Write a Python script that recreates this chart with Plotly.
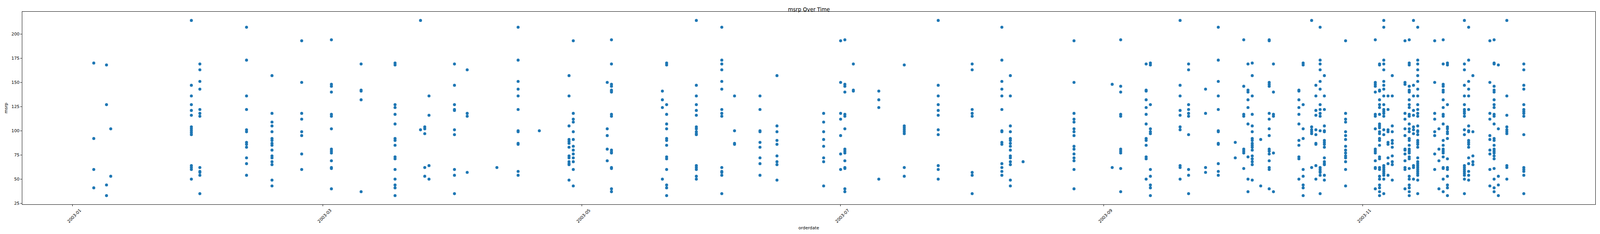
import pandas as pd
import plotly.graph_objects as go

# order dates (2003) and the msrp values of the order lines on each date
order_dates = [
    "2003-01-06", "2003-01-09", "2003-01-10", "2003-01-29", "2003-01-31",
    "2003-02-11", "2003-02-17", "2003-02-24", "2003-03-03", "2003-03-10",
    "2003-03-18", "2003-03-24", "2003-03-25", "2003-03-26", "2003-04-01",
    "2003-04-04", "2003-04-11", "2003-04-16", "2003-04-21", "2003-04-28",
    "2003-04-29", "2003-05-07", "2003-05-08", "2003-05-20", "2003-05-21",
    "2003-05-28", "2003-06-03", "2003-06-06", "2003-06-12", "2003-06-16",
    "2003-06-27", "2003-07-01", "2003-07-02", "2003-07-04", "2003-07-10",
    "2003-07-16", "2003-07-24", "2003-08-01", "2003-08-08", "2003-08-10",
    "2003-08-13", "2003-08-25", "2003-09-03", "2003-09-05", "2003-09-11",
    "2003-09-12", "2003-09-19", "2003-09-21", "2003-09-25", "2003-09-28",
    "2003-10-02", "2003-10-04", "2003-10-05", "2003-10-06", "2003-10-08",
    "2003-10-10", "2003-10-11", "2003-10-17", "2003-10-18", "2003-10-20",
    "2003-10-21", "2003-10-22", "2003-10-23", "2003-10-28", "2003-11-04",
    "2003-11-05", "2003-11-06", "2003-11-07", "2003-11-08", "2003-11-11",
    "2003-11-12", "2003-11-13", "2003-11-14", "2003-11-18", "2003-11-19",
    "2003-11-20", "2003-11-21", "2003-11-25", "2003-11-26", "2003-11-27",
    "2003-12-01", "2003-12-02", "2003-12-03", "2003-12-05", "2003-12-09",
]

msrp_by_date = [
    [170, 92, 60, 41],
    [168, 127, 44, 33],
    [102, 53],
    [214, 147, 136, 127, 121, 116, 104, 102, 100, 98, 96, 64, 62, 60, 50],
    [169, 163, 151, 143, 122, 118, 115, 62, 58, 57, 54, 35],
    [207, 173, 136, 122, 101, 99, 88, 86, 83, 72, 66, 54],
    [157, 118, 109, 105, 99, 92, 90, 87, 85, 80, 74, 72, 68, 65, 49, 43],
    [193, 150, 118, 112, 99, 95, 76, 60],
    [194, 148, 146, 140, 117, 115, 102, 81, 79, 77, 69, 62, 61, 40],
    [169, 142, 141, 132, 37],
    [170, 168, 127, 124, 117, 107, 92, 90, 85, 73, 71, 60, 50, 44, 41, 33],
    [214, 101],
    [104, 102, 97, 62, 53],
    [136, 116, 64, 50],
    [169, 147, 127, 122, 121, 101, 96, 60, 54, 35],
    [163, 118, 115, 57],
    [62],
    [207, 173, 151, 143, 136, 122, 100, 99, 87, 86, 58, 54],
    [100],
    [157, 136, 105, 91, 89, 87, 83, 74, 72, 68, 66, 65, 49],
    [193, 118, 112, 109, 99, 91, 84, 80, 76, 72, 68, 60, 43],
    [150, 102, 95, 81, 69],
    [194, 169, 148, 146, 142, 141, 140, 117, 115, 80, 78, 77, 62, 61, 40, 37],
    [141, 132, 124, 50],
    [170, 168, 127, 117, 107, 102, 92, 90, 85, 73, 71, 60, 44, 41, 33],
    [214, 147, 136, 127, 121, 116, 104, 102, 99, 97, 96, 64, 62, 60, 53, 50],
    [207, 173, 169, 163, 151, 143, 122, 118, 115, 62, 58, 57, 54, 35],
    [136, 100, 87, 86],
    [136, 122, 100, 99, 88, 83, 72, 66, 54],
    [157, 105, 99, 90, 86, 74, 68, 65, 49],
    [118, 109, 99, 91, 84, 72, 68, 43],
    [193, 150, 118, 112, 95, 76, 60],
    [194, 148, 146, 140, 117, 115, 102, 81, 79, 77, 69, 62, 61, 40, 37],
    [169, 142, 141],
    [141, 132, 124, 50],
    [168, 105, 103, 101, 99, 97, 62, 53],
    [214, 147, 136, 127, 121, 116, 101, 96, 64, 60, 50],
    [169, 163, 122, 118, 115, 57, 54, 35],
    [207, 173, 151, 143, 136, 122, 100, 99, 88, 86, 66, 62, 58, 54],
    [157, 136, 105, 99, 92, 90, 87, 84, 80, 74, 72, 68, 65, 49, 43],
    [68],
    [193, 150, 118, 112, 109, 102, 99, 95, 84, 81, 76, 72, 69, 60, 40],
    [148, 62],
    [194, 146, 140, 117, 115, 81, 79, 77, 61, 37],
    [169, 142, 141, 132, 124, 117, 107, 92, 90, 85, 73, 71, 50],
    [170, 168, 127, 102, 99, 97, 60, 53, 44, 41, 33],
    [214, 147, 136, 121, 116, 104, 101, 64, 62, 50],
    [169, 163, 127, 122, 118, 115, 96, 60, 54, 35],
    [143, 118, 62, 57],
    [207, 173, 151, 136, 122, 100, 99, 87, 86, 66, 58, 54],
    [88, 72],
    [194, 146, 117, 115, 81, 79, 77, 61],
    [169, 142, 140, 132, 124, 107, 73, 50, 37],
    [170, 157, 136, 117, 105, 99, 92, 90, 87, 85, 83, 80, 74, 71, 68, 65, 49],
    [91, 43],
    [194, 193, 150, 148, 146, 118, 112, 102, 95, 81, 79, 76, 69, 62, 60, 40],
    [169, 140, 117, 115, 77, 37],
    [142, 141, 132, 124, 117, 107, 90, 85, 73, 71, 50],
    [170, 168, 127, 102, 92, 60, 53, 44, 41, 33],
    [214, 104, 101, 99, 97, 62],
    [147, 136, 121, 116, 101, 96, 87, 86, 64, 50],
    [207, 173, 169, 163, 151, 143, 127, 122, 118, 115, 100, 62, 60, 58, 57, 54, 35],
    [157, 136, 122, 105, 100, 99, 90, 88, 86, 83, 72, 68, 66, 65, 54, 49],
    [193, 118, 112, 109, 99, 95, 91, 84, 80, 77, 74, 72, 68, 60, 43],
    [194, 150, 148, 146, 140, 117, 115, 102, 81, 79, 77, 69, 62, 61, 40],
    [169, 168, 142, 141, 132, 127, 124, 117, 107, 105, 103, 99, 97, 92, 90, 85,
     73, 71, 62, 60, 53, 50, 44, 41, 37, 33],
    [214, 207, 173, 169, 163, 151, 147, 143, 136, 127, 122, 120, 118, 115, 101,
     96, 64, 62, 60, 58, 56, 54, 50, 35],
    [136, 122, 101, 99, 88, 86, 72, 66, 54],
    [157, 136, 105, 99, 90, 87, 83, 74, 68, 65, 49],
    [193, 150, 148, 118, 112, 102, 95, 81, 80, 76, 69, 62, 60, 40],
    [194, 170, 168, 146, 142, 141, 140, 132, 127, 124, 117, 115, 107, 102, 99,
     92, 90, 85, 81, 79, 77, 73, 71, 61, 53, 50, 44, 41, 37, 33],
    [214, 147, 136, 121, 116, 104, 101, 97, 64, 62, 50],
    [207, 173, 169, 163, 157, 151, 143, 136, 127, 122, 118, 115, 105, 100, 99,
     96, 90, 88, 86, 83, 72, 68, 66, 64, 62, 60, 58, 56, 54, 49, 35],
    [193, 150, 118, 112, 99, 95, 76, 60],
    [102, 81, 69, 40],
    [194, 169, 148, 146, 142, 140, 132, 124, 117, 115, 107, 90, 85, 81, 79, 77,
     73, 62, 61, 50, 37],
    [170, 168, 127, 104, 102, 99, 97, 92, 71, 62, 60, 53, 44, 41, 33],
    [214, 169, 163, 147, 136, 127, 122, 120, 118, 115, 101, 96, 64, 62, 60, 58,
     56, 54, 50, 35],
    [207, 173, 151, 143, 136, 122, 105, 100, 99, 90, 88, 86, 83, 72, 66, 58, 54, 49],
    [157, 99, 74, 68, 65],
    [193, 150, 118, 112, 95, 91, 80, 76, 60, 43],
    [194, 170, 169, 146, 142, 140, 132, 127, 124, 117, 115, 107, 92, 90, 85, 81,
     79, 77, 74, 71, 61, 50, 41, 37],
    [168, 102, 53, 44, 33],
    [214, 136, 116, 104, 101, 99, 97, 64, 62, 50],
    [169, 163, 147, 143, 127, 122, 120, 118, 115, 96, 62, 60, 58, 54, 35],
]

tick_dates = ["2003-01-01", "2003-03-01", "2003-05-01", "2003-07-01",
              "2003-09-01", "2003-11-01"]

rows = []
for d, vals in zip(order_dates, msrp_by_date):
    for v in vals:
        rows.append({"orderdate": pd.Timestamp(d), "msrp": v})
df = pd.DataFrame(rows)

# matplotlib-like 5% padding around the data
xmin, xmax = df["orderdate"].min(), df["orderdate"].max()
xpad = (xmax - xmin) * 0.05
ymin, ymax = df["msrp"].min(), df["msrp"].max()
ypad = (ymax - ymin) * 0.05

# the page is shot at a device scale of 1.25, so css px = target px * 0.8
S = 0.8
font = "DejaVu Sans, Liberation Sans, sans-serif"

fig = go.Figure()
fig.add_trace(go.Scatter(
    x=df["orderdate"], y=df["msrp"], mode="markers",
    marker=dict(color="#1f77b4", size=9.6 * S, line=dict(width=0)),
    showlegend=False,
))

fig.update_layout(
    autosize=True,
    margin=dict(l=71 * S, r=15 * S, t=37 * S, b=95 * S, autoexpand=False),
    paper_bgcolor="white", plot_bgcolor="white",
    font=dict(family=font, size=13.5 * S, color="black"),
    title=dict(text="msrp Over Time", x=0.5056, xanchor="center", xref="container",
               y=1 - 29.3 / 600, yanchor="bottom", yref="container",
               font=dict(size=16.7 * S, family=font, color="black")),
)
fig.update_xaxes(
    range=[xmin - xpad, xmax + xpad],
    tickvals=[pd.Timestamp(t) for t in tick_dates],
    tickformat="%Y-%m", tickangle=-45, ticklabelshift=round(24 * S),
    ticks="outside", ticklen=4.9 * S, tickwidth=1.1 * S, tickcolor="black",
    showline=True, mirror=True, linecolor="black", linewidth=1.1 * S,
    showgrid=False, zeroline=False,
    title=dict(text="orderdate", standoff=8 * S, font=dict(size=13.5 * S)),
)
fig.update_yaxes(
    range=[ymin - ypad, ymax + ypad],
    tickvals=[25, 50, 75, 100, 125, 150, 175, 200],
    ticks="outside", ticklen=4.9 * S, tickwidth=1.1 * S, tickcolor="black",
    showline=True, mirror=True, linecolor="black", linewidth=1.1 * S,
    showgrid=False, zeroline=False,
    title=dict(text="msrp", standoff=9 * S, font=dict(size=13.5 * S)),
)

fig.write_html(
    "out.html", default_width="100vw", default_height="100vh",
    config={"displayModeBar": False},
    post_script="document.body.style.margin='0';"
                "document.documentElement.style.overflow='hidden';"
                "Plotly.Plots.resize(document.getElementById('{plot_id}'));",
)
